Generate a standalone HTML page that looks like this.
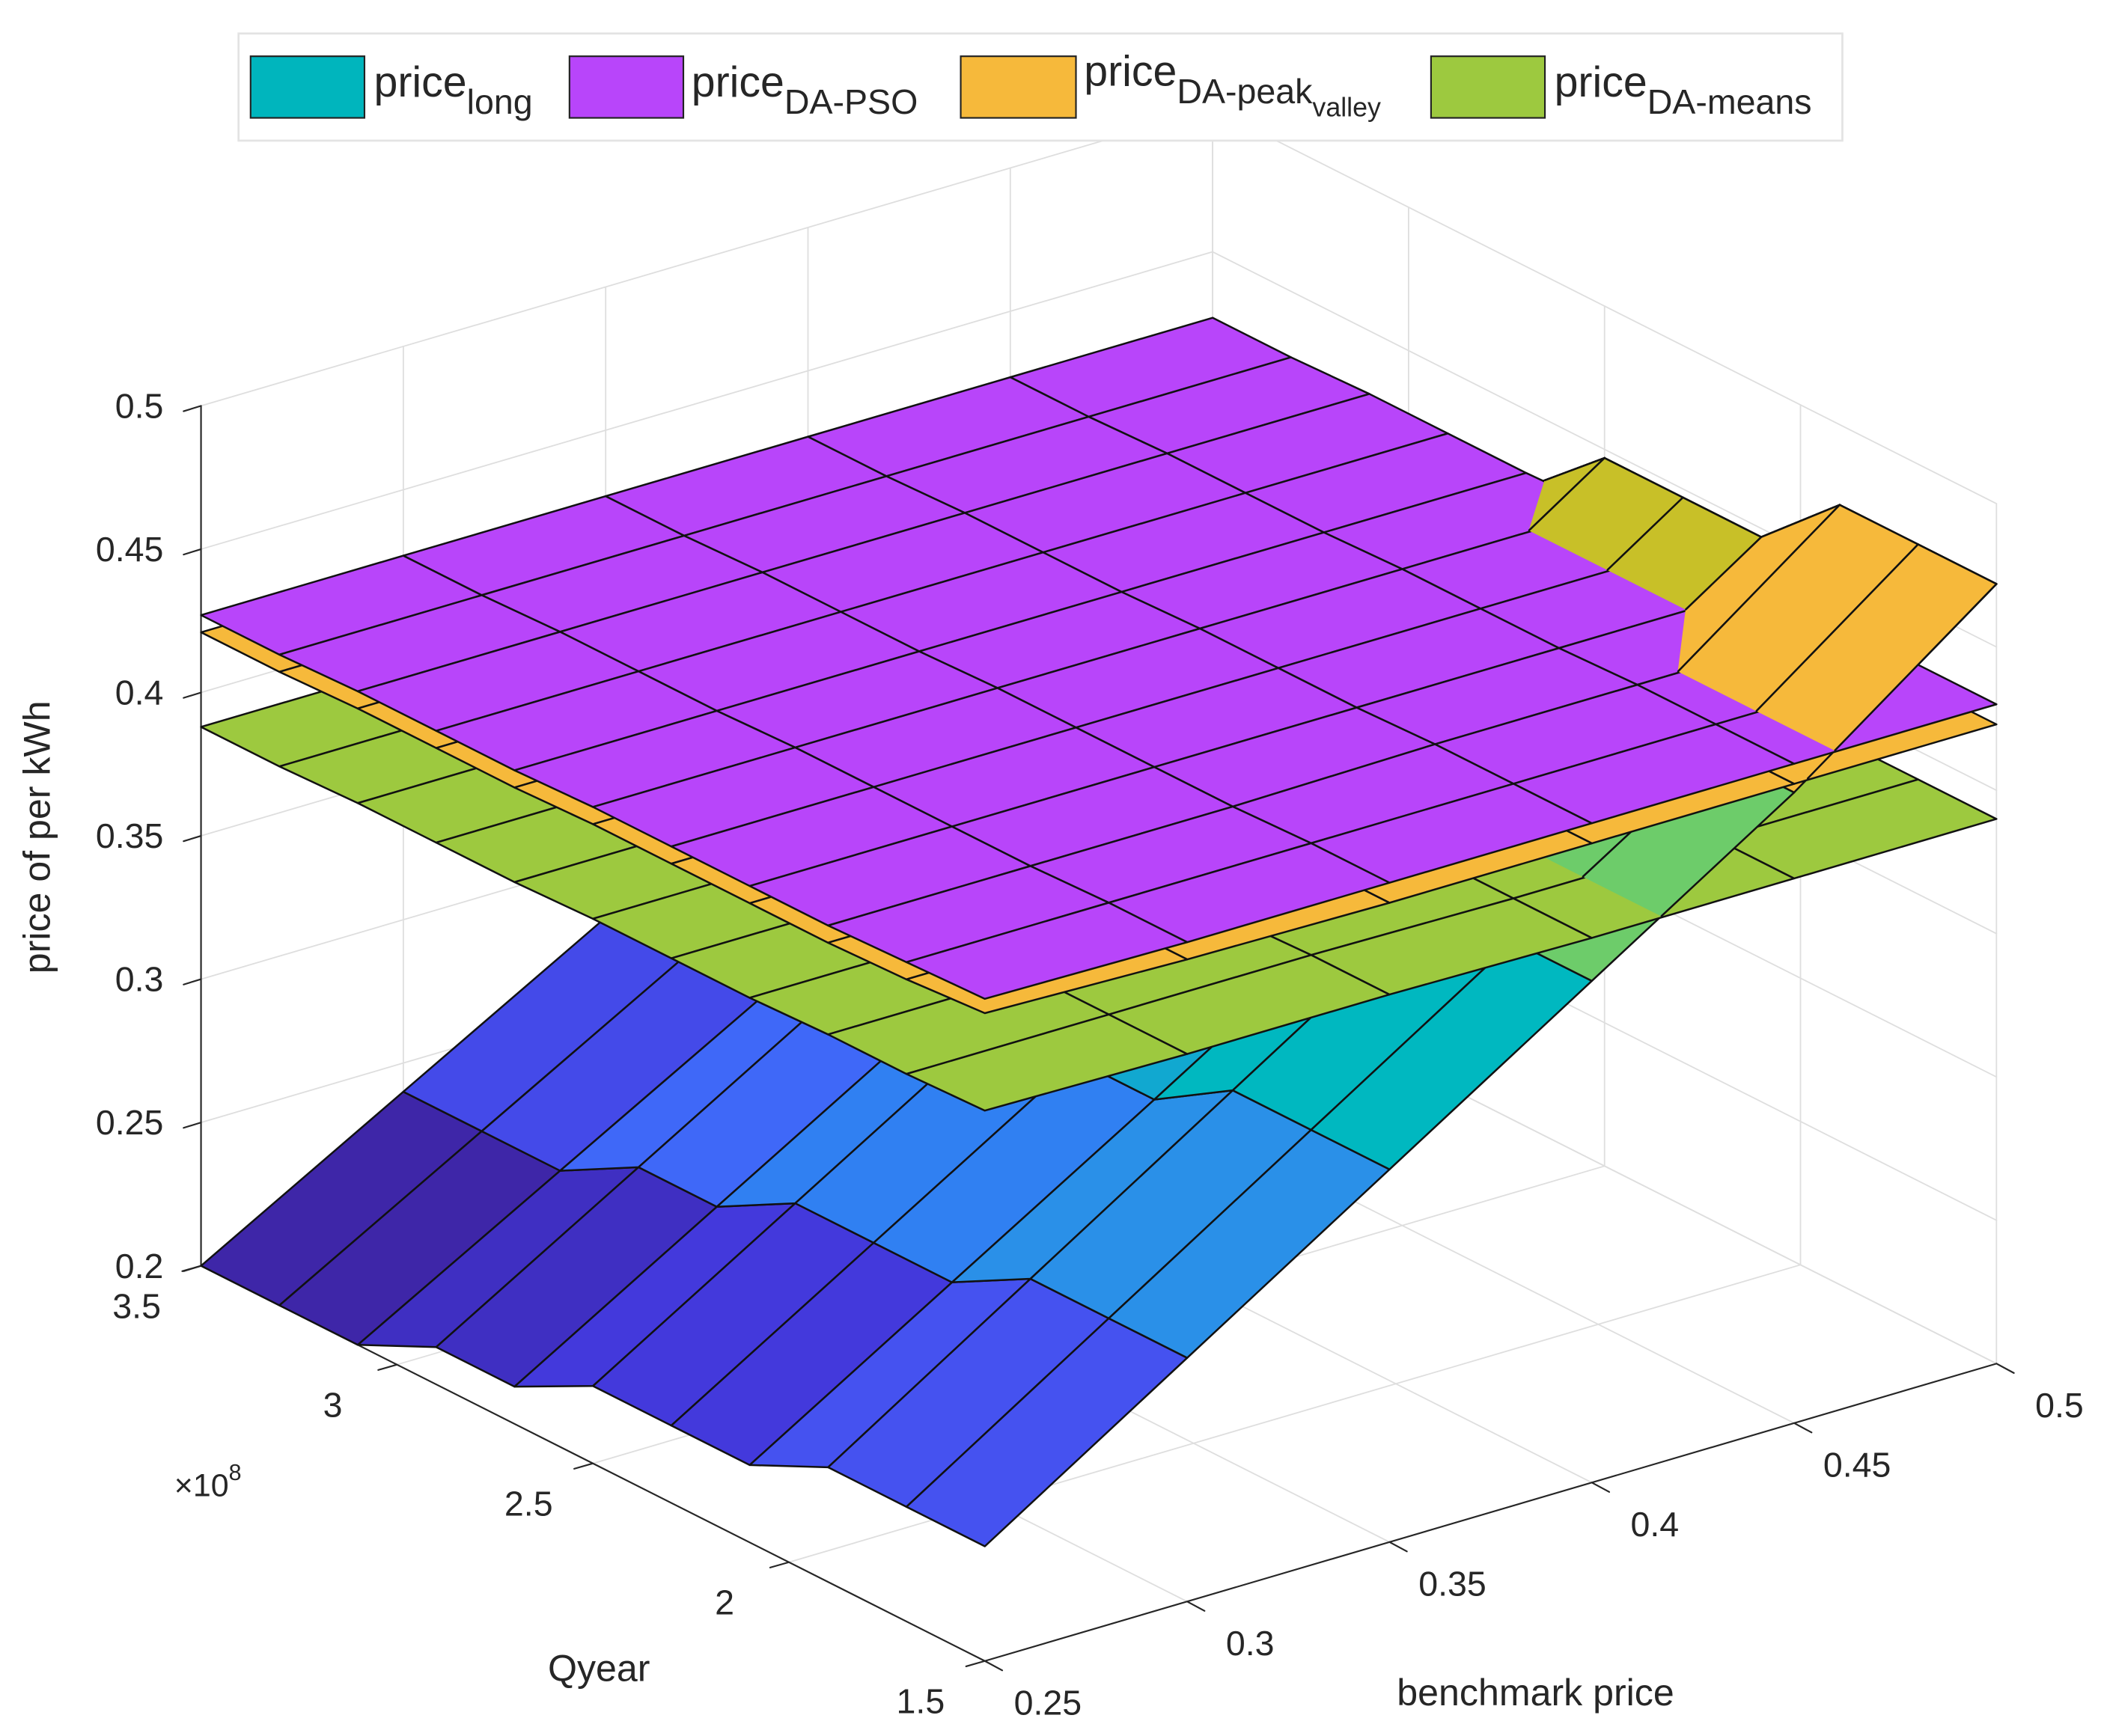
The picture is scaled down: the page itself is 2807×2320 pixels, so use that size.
<!DOCTYPE html>
<html><head><meta charset="utf-8"><title>3D price surfaces</title>
<style>
html,body{margin:0;padding:0;background:#fff;}
svg{display:block;}
text{font-family:"Liberation Sans",Arial,sans-serif;fill:#262626;}
</style></head>
<body>
<svg id="chart" xmlns="http://www.w3.org/2000/svg" width="2807" height="2320" viewBox="0 0 1568 1296">
  <rect x="0" y="0" width="1568" height="1296" fill="#ffffff"/>
  <g id="grid"></g>
  <g id="axes"></g>
  <g id="surfaces"></g>
  <g id="labels">
    <text x="37" y="625" font-size="28" text-anchor="middle" transform="rotate(-90 37 625)">price of per kWh</text>
    <text x="447" y="1255" font-size="28" text-anchor="middle">Qyear</text>
    <text x="1146" y="1273" font-size="28" text-anchor="middle">benchmark price</text>
    <text x="130" y="1117" font-size="24">×10<tspan dy="-12" font-size="17">8</tspan></text>
  </g>
  <g id="legend">
    <rect x="178" y="25" width="1197" height="80" fill="#ffffff" stroke="#e3e3e3" stroke-width="1.5"/>
    <g>
      <rect x="187" y="42" width="85" height="46" fill="#00b5bd" stroke="#222" stroke-width="1.2"/>
      <text x="279" y="72" font-size="32">price<tspan dy="13" font-size="26">long</tspan></text>
    </g>
    <g>
      <rect x="425" y="42" width="85" height="46" fill="#b845fa" stroke="#222" stroke-width="1.2"/>
      <text x="516" y="72" font-size="32">price<tspan dy="13" font-size="26">DA-PSO</tspan></text>
    </g>
    <g>
      <rect x="717" y="42" width="86" height="46" fill="#f6b93b" stroke="#222" stroke-width="1.2"/>
      <text x="809" y="64" font-size="32">price<tspan dy="13" font-size="26">DA-peak</tspan><tspan dy="10" font-size="20">valley</tspan></text>
    </g>
    <g>
      <rect x="1068" y="42" width="85" height="46" fill="#9dc93f" stroke="#222" stroke-width="1.2"/>
      <text x="1160" y="72" font-size="32">price<tspan dy="13" font-size="26">DA-means</tspan></text>
    </g>
  </g>
</svg>
<script>
// ---- data ----
const xs = [0.25, 0.30, 0.35, 0.40, 0.45, 0.50];
const ys = [3.5, 3.3, 3.1, 2.9, 2.7, 2.5, 2.3, 2.1, 1.9, 1.7, 1.5];
const xTicks = [0.25, 0.3, 0.35, 0.4, 0.45, 0.5];
const yTicks = [1.5, 2, 2.5, 3, 3.5];
const zTicks = [0.2, 0.25, 0.3, 0.35, 0.4, 0.45, 0.5];
const xTickLabels = ["0.25", "0.3", "0.35", "0.4", "0.45", "0.5"];
const yTickLabels = ["1.5", "2", "2.5", "3", "3.5"];
const zTickLabels = ["0.2", "0.25", "0.3", "0.35", "0.4", "0.45", "0.5"];
const zLong = [
  [0.200,0.200,0.200,0.213,0.213,0.227,0.227,0.227,0.240,0.240,0.240],
  [0.240,0.240,0.240,0.255,0.255,0.270,0.270,0.270,0.285,0.285,0.285],
  [0.280,0.280,0.280,0.297,0.297,0.313,0.313,0.313,0.330,0.330,0.330],
  [0.320,0.320,0.320,0.340,0.340,0.357,0.357,0.357,0.375,0.375,0.375],
  [0.360,0.360,0.360,0.380,0.380,0.400,0.400,0.400,0.420,0.420,0.420],
  [0.400,0.400,0.400,0.423,0.423,0.447,0.447,0.447,0.472,0.472,0.472]
];
const zPSO = [
  [0.427,0.427,0.428,0.428,0.428,0.429,0.429,0.429,0.429,0.430,0.431],
  [0.427,0.427,0.428,0.428,0.428,0.429,0.429,0.429,0.429,0.430,0.430],
  [0.427,0.427,0.428,0.428,0.428,0.429,0.429,0.429,0.429,0.430,0.430],
  [0.427,0.427,0.428,0.428,0.428,0.429,0.429,0.429,0.430,0.430,0.430],
  [0.427,0.427,0.428,0.428,0.428,0.429,0.429,0.429,0.430,0.430,0.430],
  [0.427,0.427,0.428,0.428,0.428,0.429,0.429,0.429,0.430,0.430,0.430]
];
const zPeak = [
  [0.421,0.421,0.422,0.422,0.422,0.423,0.423,0.423,0.423,0.424,0.426],
  [0.421,0.421,0.422,0.422,0.422,0.423,0.423,0.423,0.423,0.424,0.424],
  [0.421,0.421,0.422,0.422,0.422,0.423,0.423,0.423,0.423,0.423,0.423],
  [0.421,0.421,0.422,0.422,0.422,0.423,0.423,0.423,0.423,0.423,0.423],
  [0.421,0.421,0.422,0.422,0.422,0.423,0.423,0.423,0.423,0.423,0.423],
  [0.421,0.421,0.422,0.422,0.422,0.423,0.423,0.423,0.423,0.423,0.423]
];
const zMeans = [
  [0.388,0.388,0.389,0.389,0.389,0.390,0.390,0.390,0.391,0.391,0.392],
  [0.388,0.388,0.389,0.389,0.389,0.390,0.390,0.390,0.391,0.391,0.391],
  [0.388,0.388,0.389,0.389,0.389,0.390,0.390,0.390,0.390,0.391,0.391],
  [0.388,0.388,0.389,0.389,0.389,0.390,0.390,0.390,0.390,0.390,0.390],
  [0.388,0.388,0.389,0.389,0.389,0.390,0.390,0.390,0.390,0.390,0.390],
  [0.388,0.388,0.389,0.389,0.389,0.390,0.390,0.390,0.390,0.390,0.390]
];

// ---- projection / axis functions ----
const NS = "http://www.w3.org/2000/svg";
function proj(x, y, z) {
  const f = (x - 0.25) / 0.25, g = (3.5 - y) / 2;
  return [150 + 755 * f + 585 * g, 945 - 222 * f + 295 * g - 2140 * (z - 0.2)];
}
function depth(x, y, z) {
  const f = (x - 0.25) / 0.25, g = (3.5 - y) / 2, w = (z - 0.2) / 0.1;
  return -585 * f + 755 * g + 1647.6 * w;
}
const cStops = [
  [0.240,[62,38,168]],[0.255,[63,47,194]],[0.270,[67,57,220]],[0.285,[69,82,240]],
  [0.297,[63,104,248]],[0.313,[48,128,242]],[0.330,[42,144,232]],[0.375,[0,184,192]],
  [0.420,[109,204,106]],[0.447,[200,192,40]],[0.472,[246,185,59]]
];
function cmap(z) {
  if (z <= cStops[0][0]) return rgb(cStops[0][1]);
  for (let k = 1; k < cStops.length; k++) {
    if (z <= cStops[k][0]) {
      const a = cStops[k-1], b = cStops[k];
      const t = (z - a[0]) / (b[0] - a[0]);
      return rgb([0,1,2].map(c => a[1][c] + t * (b[1][c] - a[1][c])));
    }
  }
  return rgb(cStops[cStops.length-1][1]);
}
function rgb(a) { return "rgb(" + a.map(v => Math.round(v)).join(",") + ")"; }
function line(parent, p, q, stroke, w, name) {
  const l = document.createElementNS(NS, "line");
  l.setAttribute("x1", p[0].toFixed(2)); l.setAttribute("y1", p[1].toFixed(2));
  l.setAttribute("x2", q[0].toFixed(2)); l.setAttribute("y2", q[1].toFixed(2));
  l.setAttribute("stroke", stroke); l.setAttribute("stroke-width", w);
  l.setAttribute("stroke-linecap", "round");
  
  
  parent.appendChild(l);
  return l;
}
function text(parent, x, y, s, size, anchor, name) {
  const t = document.createElementNS(NS, "text");
  t.setAttribute("x", x.toFixed(1)); t.setAttribute("y", y.toFixed(1));
  t.setAttribute("font-size", size); t.setAttribute("text-anchor", anchor);
  t.textContent = s;
  
  
  parent.appendChild(t);
}

// ---- grid (back walls + floor) ----
const grid = document.getElementById("grid");
const GC = "#dedede";
xTicks.forEach(x => {
  line(grid, proj(x, 3.5, 0.2), proj(x, 3.5, 0.5), GC, 1, "grid-line");
  line(grid, proj(x, 3.5, 0.2), proj(x, 1.5, 0.2), GC, 1, "grid-line");
});
yTicks.forEach(y => {
  line(grid, proj(0.5, y, 0.2), proj(0.5, y, 0.5), GC, 1, "grid-line");
  line(grid, proj(0.25, y, 0.2), proj(0.5, y, 0.2), GC, 1, "grid-line");
});
zTicks.forEach(z => {
  line(grid, proj(0.25, 3.5, z), proj(0.5, 3.5, z), GC, 1, "grid-line");
  line(grid, proj(0.5, 3.5, z), proj(0.5, 1.5, z), GC, 1, "grid-line");
});

// ---- axes ----
const axes = document.getElementById("axes");
const AC = "#262626";
line(axes, proj(0.25, 3.5, 0.2), proj(0.25, 3.5, 0.5), AC, 1.2, "z-axis-line");
line(axes, proj(0.25, 3.5, 0.2), proj(0.25, 1.5, 0.2), AC, 1.2, "y-axis-line");
line(axes, proj(0.25, 1.5, 0.2), proj(0.5, 1.5, 0.2), AC, 1.2, "x-axis-line");
zTicks.forEach((z, k) => {
  const p = proj(0.25, 3.5, z);
  line(axes, p, [p[0] - 13, p[1] + 4], AC, 1.2, "z-tick");
  text(axes, p[0] - 28, p[1] + 9, zTickLabels[k], 26, "end", "z-tick-label");
});
yTicks.forEach((y, k) => {
  const p = proj(0.25, y, 0.2);
  line(axes, p, [p[0] - 14, p[1] + 4], AC, 1.2, "y-tick");
  text(axes, p[0] - 48, p[1] + 39, yTickLabels[k], 26, "middle", "y-tick-label");
});
xTicks.forEach((x, k) => {
  const p = proj(x, 1.5, 0.2);
  line(axes, p, [p[0] + 13, p[1] + 7], AC, 1.2, "x-tick");
  text(axes, p[0] + 47, p[1] + 40, xTickLabels[k], 26, "middle", "x-tick-label");
});

// ---- surfaces ----
const surfG = document.getElementById("surfaces");
const surfaces = [
  { name: "long", Z: zLong, fill: null },
  { name: "means", Z: zMeans, fill: "#9dc93f" },
  { name: "peak-valley", Z: zPeak, fill: "#f6b93b" },
  { name: "pso", Z: zPSO, fill: "#b845fa" }
];
function quadColor(s, i, j) { return s.fill ? s.fill : cmap(s.Z[i + 1][j + 1]); }
function quadVerts(s, i, j) {
  return [[i, j], [i + 1, j], [i + 1, j + 1], [i, j + 1]].map(c => ({ x: xs[c[0]], y: ys[c[1]], z: s.Z[c[0]][c[1]], i: c[0], j: c[1] }));
}
function ptsStr(vs) { return vs.map(v => { const p = proj(v.x, v.y, v.z); return p[0].toFixed(2) + "," + p[1].toFixed(2); }).join(" "); }
function avgDepth(vs) { return vs.reduce((a, v) => a + depth(v.x, v.y, v.z), 0) / vs.length; }

function drawLayer(s) {
  const g = document.createElementNS(NS, "g");
  
  
  surfG.appendChild(g);
  const qs = [];
  for (let i = 0; i < xs.length - 1; i++) for (let j = 0; j < ys.length - 1; j++) {
    const vs = quadVerts(s, i, j);
    qs.push({ vs, d: avgDepth(vs), c: quadColor(s, i, j) });
  }
  qs.sort((a, b) => a.d - b.d);
  qs.forEach(q => {
    const p = document.createElementNS(NS, "polygon");
    p.setAttribute("points", ptsStr(q.vs));
    p.setAttribute("fill", q.c);
    p.setAttribute("stroke", "#111");
    p.setAttribute("stroke-width", "1.4");
    p.setAttribute("stroke-linejoin", "round");
    
    
    g.appendChild(p);
  });
}
function lerpV(a, b, t) { return { x: a.x + t * (b.x - a.x), y: a.y + t * (b.y - a.y), z: a.z + t * (b.z - a.z), dd: a.dd + t * (b.dd - a.dd) }; }
function clipPoly(vs) {
  const out = [];
  for (let k = 0; k < vs.length; k++) {
    const a = vs[k], b = vs[(k + 1) % vs.length];
    if (a.dd > 0) out.push(a);
    if ((a.dd > 0) !== (b.dd > 0)) out.push(lerpV(a, b, a.dd / (a.dd - b.dd)));
  }
  return out;
}
function drawOverlay(low, high) {
  const g = document.createElementNS(NS, "g");
  
  
  surfG.appendChild(g);
  const pieces = [];
  for (let i = 0; i < xs.length - 1; i++) for (let j = 0; j < ys.length - 1; j++) {
    const vs = quadVerts(low, i, j).map(v => Object.assign(v, { dd: v.z - high.Z[v.i][v.j] }));
    if (vs.every(v => v.dd <= 0.0005)) continue;
    vs.forEach(v => { v.dd -= 0.0005; });
    const poly = clipPoly(vs);
    if (poly.length < 3) continue;
    pieces.push({ vs, poly, d: avgDepth(poly), c: quadColor(low, i, j) });
  }
  pieces.sort((a, b) => a.d - b.d);
  pieces.forEach(pc => {
    const p = document.createElementNS(NS, "polygon");
    p.setAttribute("points", ptsStr(pc.poly));
    p.setAttribute("fill", pc.c);
    p.setAttribute("stroke", pc.c);
    p.setAttribute("stroke-width", "0.6");
    
    
    g.appendChild(p);
    for (let k = 0; k < 4; k++) {
      let a = pc.vs[k], b = pc.vs[(k + 1) % 4];
      if (a.dd <= 0 && b.dd <= 0) continue;
      if (a.dd <= 0) a = lerpV(a, b, a.dd / (a.dd - b.dd));
      else if (b.dd <= 0) b = lerpV(a, b, a.dd / (a.dd - b.dd));
      line(g, proj(a.x, a.y, a.z), proj(b.x, b.y, b.z), "#111", 1.4, "surface-edge-" + low.name);
    }
  });
}
for (let k = 0; k < surfaces.length; k++) {
  drawLayer(surfaces[k]);
  for (let j = 0; j < k; j++) drawOverlay(surfaces[j], surfaces[k]);
}
</script>
</body></html>
